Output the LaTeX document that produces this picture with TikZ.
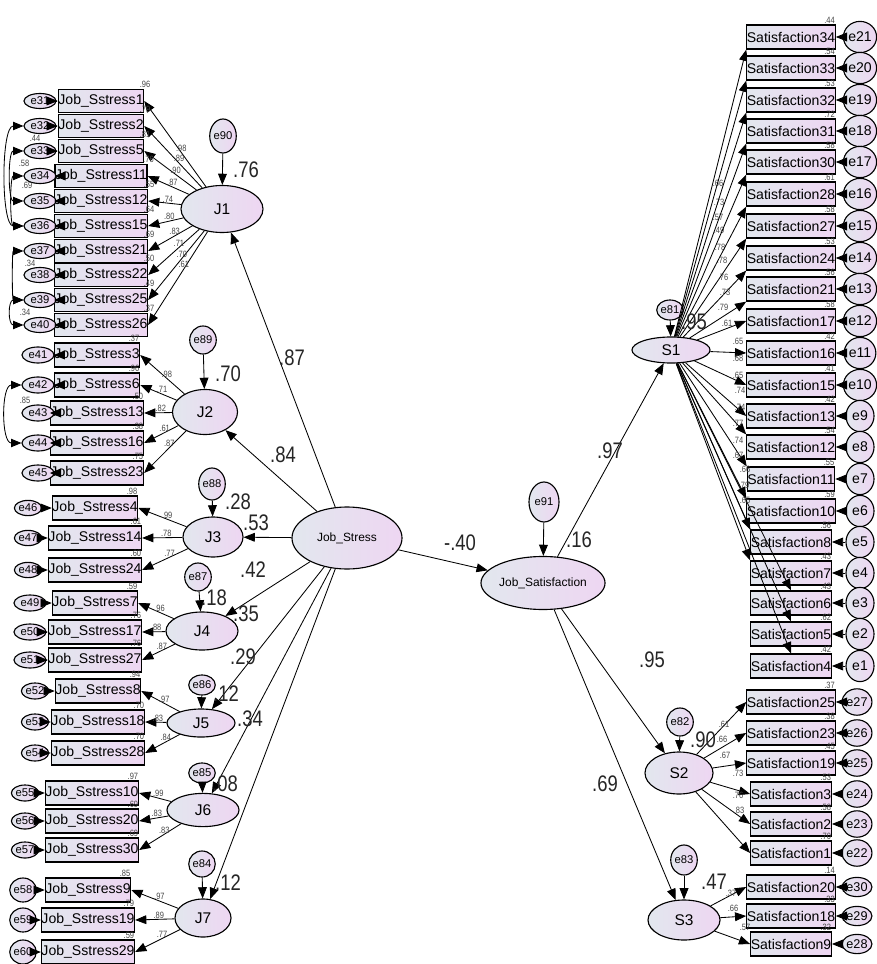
\documentclass[tikz,border=0pt]{standalone}
\usepackage{fontspec}
\setmainfont{Liberation Sans}
\newfontfamily\narrowfont[FakeStretch=0.82]{Liberation Sans}
\usetikzlibrary{shapes.geometric,arrows.meta}
\definecolor{fillL}{RGB}{226,231,238}
\definecolor{fillR}{RGB}{238,214,242}
\definecolor{numgray}{RGB}{70,70,70}
\tikzset{
  obs/.style={draw, line width=0.9pt, left color=fillL, right color=fillR, minimum width=1.875cm, minimum height=0.6cm, inner sep=0pt, font=\fontsize{10}{10}\selectfont},
  lat/.style={ellipse, draw, line width=0.8pt, left color=fillL, right color=fillR, inner sep=0pt, font=\fontsize{11}{11}\selectfont},
  err/.style={lat, font=\fontsize{8}{8}\selectfont},
  arr/.style={-{Triangle[length=2.8mm,width=2.2mm]}, line width=0.6pt},
  cov/.style={{Triangle[length=2.6mm,width=2.1mm]}-{Triangle[length=2.6mm,width=2.1mm]}, line width=0.6pt},
  ld/.style={font=\narrowfont\fontsize{6.5}{6.5}\selectfont, text=numgray, inner sep=0.5pt},
  r2/.style={ld},
  coef/.style={font=\narrowfont\fontsize{16}{16}\selectfont, text=black!85, inner sep=0pt}
}
\begin{document}
\begin{tikzpicture}[x=0.025cm,y=-0.025cm]
\fill[white] (0,0) rectangle (876,964);
\useasboundingbox (0,0) rectangle (876,964);

% latent variables
\node[lat, minimum width=2.05cm, minimum height=1.175cm] (J1) at (222,209) {J1};
\node[lat, minimum width=1.625cm, minimum height=1.125cm] (J2) at (205,412) {J2};
\node[lat, minimum width=1.5cm, minimum height=1.0cm] (J3) at (213,537) {J3};
\node[lat, minimum width=1.8cm, minimum height=0.95cm] (J4) at (202,631) {J4};
\node[lat, minimum width=1.7cm, minimum height=0.7cm] (J5) at (201,723) {J5};
\node[lat, minimum width=1.8cm, minimum height=0.83cm] (J6) at (203,810) {J6};
\node[lat, minimum width=1.4cm, minimum height=0.95cm] (J7) at (203,918) {J7};
\node[lat, minimum width=2.75cm, minimum height=1.55cm, font=\fontsize{8.5}{8.5}\selectfont] (JS) at (347,538) {Job\_Stress};
\node[lat, minimum width=2.925cm, minimum height=1.325cm, font=\fontsize{8.5}{8.5}\selectfont] (JSat) at (543,583) {Job\_Satisfaction};
\node[lat, minimum width=1.95cm, minimum height=0.65cm] (S1) at (671,350) {S1};
\node[lat, minimum width=1.7cm, minimum height=1.05cm] (S2) at (679,773) {S2};
\node[lat, minimum width=1.8cm, minimum height=1.0cm] (S3) at (684,920) {S3};

% disturbances
\node[err, minimum width=0.65cm, minimum height=0.85cm] (e90) at (223,136) {e90};
\node[err, minimum width=0.6cm, minimum height=0.7cm] (e89) at (203,340) {e89};
\node[err, minimum width=0.55cm, minimum height=0.8cm] (e88) at (212,484) {e88};
\node[err, minimum width=0.45cm, minimum height=0.7cm] (e87) at (198,577) {e87};
\node[err, minimum width=0.45cm, minimum height=0.5cm] (e86) at (202,685) {e86};
\node[err, minimum width=0.45cm, minimum height=0.5cm] (e85) at (202,773) {e85};
\node[err, minimum width=0.5cm, minimum height=0.65cm] (e84) at (202,864) {e84};
\node[err, minimum width=0.75cm, minimum height=1.0cm] (e91) at (544,502) {e91};
\node[err, minimum width=0.4cm, minimum height=0.5cm] (e81) at (670,310) {e81};
\node[err, minimum width=0.55cm, minimum height=0.7cm] (e82) at (680,722) {e82};
\node[err, minimum width=0.6cm, minimum height=0.75cm] (e83) at (684,860) {e83};
\foreach \a/\b in {e90/J1,e89/J2,e88/J3,e87/J4,e86/J5,e85/J6,e84/J7,e91/JSat,e81/S1,e82/S2,e83/S3}
  \draw[arr] (\a) -- (\b);

% structural paths
\foreach \b in {J1,J2,J3,J4,J5,J6,J7}
  \draw[arr] (JS) -- (\b);
\draw[arr] (JS) -- (JSat);
\foreach \b in {S1,S2,S3}
  \draw[arr] (JSat) -- (\b);

% Job stress indicators
\foreach \y/\n/\e/\l/\r in {101/1/31/.98/.96, 126/2/32/.89/.79, 151/5/33/.90/.81, 176/11/34/.87/.76, 201/12/35/.74/.55, 226/15/36/.80/.64, 251/21/37/.83/.69, 275/22/38/.71/.50, 300/25/39/.70/.49, 325/26/40/.61/.37}{
  \node[obs, minimum height=0.575cm] (js\n) at (101,\y) {Job\_Sstress\n};
  \node[r2, anchor=south east] (rj\n) at ([xshift=5pt]js\n.north east) {\r};
  \node[err, minimum width=0.8cm, minimum height=0.375cm] (e\e) at (40,\y) {e\e};
  \draw[arr] (e\e) -- (js\n);
  \draw[arr] (J1) -- (js\n.east) node[ld, pos=0.4, above] {\l};
}
\foreach \y/\n/\e/\l/\r in {355/3/41/.98/.37, 385/6/42/.71/.96, 413/13/43/.82/.50, 443/16/44/.61/.38, 473/23/45/.87/.75}{
  \node[obs] (js\n) at (97,\y) {Job\_Sstress\n};
  \node[r2, anchor=south east] (rj\n) at (js\n.north east) {\r};
  \node[err, minimum width=0.8cm, minimum height=0.4cm] (e\e) at (38,\y) {e\e};
  \draw[arr] (e\e) -- (js\n);
  \draw[arr] (J2) -- (js\n.east) node[ld, pos=0.4, above] {\l};
}
\foreach \y/\n/\e/\l/\r in {508/4/46/.99/.98, 538/14/47/.78/.61, 570/24/48/.77/.60}{
  \node[obs] (js\n) at (95,\y) {Job\_Sstress\n};
  \node[r2, anchor=south east] (rj\n) at (js\n.north east) {\r};
  \node[err, minimum width=0.68cm, minimum height=0.38cm] (e\e) at (28,\y) {e\e};
  \draw[arr] (e\e) -- (js\n);
  \draw[arr] (J3) -- (js\n.east) node[ld, pos=0.4, above] {\l};
}
\foreach \y/\n/\e/\l/\r in {603/7/49/.96/.59, 632/17/50/.88/.76, 660/27/51/.87/.76}{
  \node[obs] (js\n) at (95,\y) {Job\_Sstress\n};
  \node[r2, anchor=south east] (rj\n) at (js\n.north east) {\r};
  \node[err, minimum width=0.8cm, minimum height=0.4cm] (e\e) at (30,\y) {e\e};
  \draw[arr] (e\e) -- (js\n);
  \draw[arr] (J4) -- (js\n.east) node[ld, pos=0.4, above] {\l};
}
\foreach \y/\n/\e/\l/\r in {691/8/52/.97/.94, 722/18/53/.83/.70, 753/28/54/.84/.70}{
  \node[obs] (js\n) at (98,\y) {Job\_Sstress\n};
  \node[r2, anchor=south east] (rj\n) at (js\n.north east) {\r};
  \node[err, minimum width=0.68cm, minimum height=0.4cm] (e\e) at (35,\y) {e\e};
  \draw[arr] (e\e) -- (js\n);
  \draw[arr] (J5) -- (js\n.east) node[ld, pos=0.4, above] {\l};
}
\foreach \y/\n/\e/\l/\r in {793/10/55/.99/.97, 821/20/56/.83/.69, 850/30/57/.83/.69}{
  \node[obs] (js\n) at (92,\y) {Job\_Sstress\n};
  \node[r2, anchor=south east] (rj\n) at (js\n.north east) {\r};
  \node[err, minimum width=0.68cm, minimum height=0.4cm] (e\e) at (25,\y) {e\e};
  \draw[arr] (e\e) -- (js\n);
  \draw[arr] (J6) -- (js\n.east) node[ld, pos=0.4, above] {\l};
}
\foreach \y/\n/\e/\l/\r in {890/9/58/.97/.85, 920/19/59/.89/.79, 952/29/60/.77/.59}{
  \node[obs] (js\n) at (88,\y) {Job\_Sstress\n};
  \node[r2, anchor=south east] (rj\n) at (js\n.north east) {\r};
  \node[err, minimum width=0.6cm, minimum height=0.6cm] (e\e) at (23,\y) {e\e};
  \draw[arr] (e\e) -- (js\n);
  \draw[arr] (J7) -- (js\n.east) node[ld, pos=0.4, above] {\l};
}

% error covariances
\draw[cov] (e32.west) to[out=180,in=180,looseness=0.58] (e36.west);
\draw[cov] (e33.west) to[out=180,in=180,looseness=0.8] (e35.west);
\draw[cov] (e34.west) to[out=180,in=180,looseness=0.7] (e36.west);
\draw[cov] (e37.west) to[out=180,in=180,looseness=0.6] (e39.west);
\draw[cov] (e39.west) to[out=180,in=180,looseness=1.6] (e40.west);
\draw[cov] (e42.west) to[out=180,in=180,looseness=0.9] (e44.west);
\node[ld] (k1) at (35,138) {.44};
\node[ld] (k2) at (24,163) {.58};
\node[ld] (k3) at (27,185) {.69};
\node[ld] (k4) at (30,263) {.34};
\node[ld] (k5) at (25,312) {.34};
\node[ld] (k6) at (25,400) {.85};

% Job satisfaction indicators
\foreach \y/\n/\e/\a/\lx/\ly/\l/\r in {37/34/21/south west/718/183/.66/.44, 68/33/20/south west/719/202/.73/.54, 100/32/19/south west/718/217/.57/.53, 131/31/18/south west/719/230/.49/.72, 162/30/17/south west/720/247/.78/.58, 194/28/16/south west/722/260/.78/.61, 226/27/15/south west/723/277/.76/.58, 258/24/14/south west/725/292/.73/.53, 289/21/13/south west/723/307/.79/.56, 321/17/12/west/727/323/.61/.58, 353/16/11/west/738/341/.65/.42, 385/15/10/west/738/358/.68/.41, 416/13/9/west/738/375/.65/.42, 447/12/8/north west/740/390/.74/.54, 479/11/7/north west/740/407/.74/.55, 511/10/6/north west/738/423/.77/.59, 542/8/5/north west/738/440/.74/.56, 573/7/4/north west/738/455/.67/.43, 603/6/3/north/745/469/.66/.43, 634/5/2/north/745/500/.65/.62, 666/4/1/north/744/485/.79/.42}{
  \node[obs, minimum width=1.9cm] (sat\n) at (791,\y) {Satisfaction\n};
  \node[r2, anchor=south east] (rs\n) at (sat\n.north east) {\r};
  \node[err, minimum width=0.7cm, minimum height=0.78cm, font=\fontsize{10}{10}\selectfont] (e\e) at (860,\y) {e\e};
  \draw[arr] (e\e) -- (sat\n);
  \draw[arr] (S1) -- (sat\n.\a);
  \node[ld] (ls\n) at (\lx,\ly) {\l};
}
\foreach \y/\n/\e/\lx/\ly/\l/\r in {702/25/27/724/724/.61/.37, 733/23/26/722/739/.66/.38, 763/19/25/725/755/.67/.45, 794/3/24/738/773/.73/.53, 824/2/23/738/795/.76/.58, 853/1/22/739/810/.83/.70}{
  \node[obs, minimum width=1.9cm] (sat\n) at (791,\y) {Satisfaction\n};
  \node[r2, anchor=south east] (rs\n) at (sat\n.north east) {\r};
  \node[err, minimum width=0.58cm, minimum height=0.66cm, font=\fontsize{9}{9}\selectfont] (e\e) at (857,\y) {e\e};
  \draw[arr] (e\e) -- (sat\n);
  \draw[arr] (S2) -- (sat\n.west);
  \node[ld] (ls\n) at (\lx,\ly) {\l};
}
\foreach \y/\n/\e/\lx/\ly/\l/\r in {887/20/30/731/893/.37/.14, 916/18/29/733/908/.66/.33, 944/9/28/745/927/.57/.32}{
  \node[obs, minimum width=1.9cm] (sat\n) at (791,\y) {Satisfaction\n};
  \node[r2, anchor=south east] (rs\n) at (sat\n.north east) {\r};
  \node[err, minimum width=0.65cm, minimum height=0.48cm, font=\fontsize{9}{9}\selectfont] (e\e) at (857,\y) {e\e};
  \draw[arr] (e\e) -- (sat\n);
  \draw[arr] (S3) -- (sat\n.west);
  \node[ld] (ls\n) at (\lx,\ly) {\l};
}

% squared multiple correlations and path coefficients
\node[coef] (q1) at (246,170) {.76};
\node[coef] (q2) at (228,374) {.70};
\node[coef] (q3) at (238,502) {.28};
\node[coef] (q4) at (214,598) {.18};
\node[coef] (q5) at (226,694) {.12};
\node[coef] (q6) at (225,784) {.08};
\node[coef] (q7) at (228,883) {.12};
\node[coef] (q8) at (579,540) {.16};
\node[coef] (q9) at (694,322) {.95};
\node[coef] (q10) at (703,740) {.90};
\node[coef] (q11) at (714,882) {.47};
\node[coef] (p1) at (292,358) {.87};
\node[coef] (p2) at (283,455) {.84};
\node[coef] (p3) at (256,523) {.53};
\node[coef] (p4) at (253,570) {.42};
\node[coef] (p5) at (246,614) {.35};
\node[coef] (p6) at (243,657) {.29};
\node[coef] (p7) at (250,719) {.34};
\node[coef] (p8) at (460,543) {-.40};
\node[coef] (p9) at (610,451) {.97};
\node[coef] (p10) at (652,660) {.95};
\node[coef] (p11) at (605,784) {.69};
\end{tikzpicture}
\end{document}
